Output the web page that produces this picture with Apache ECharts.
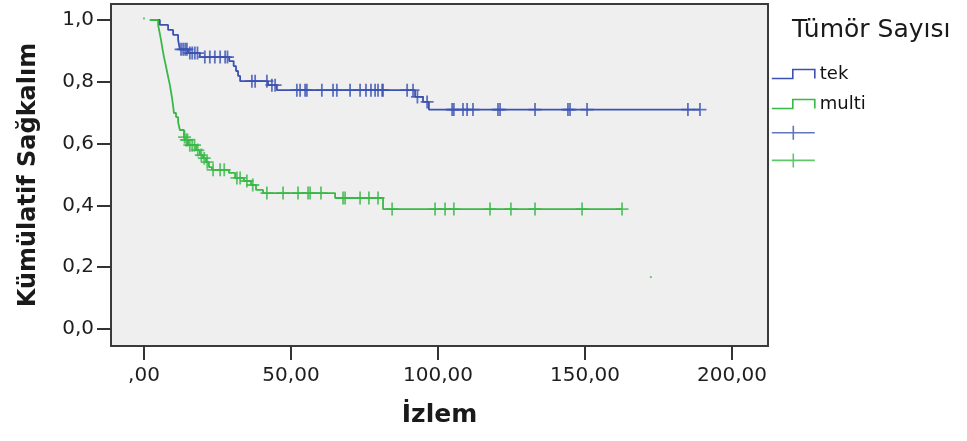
<!DOCTYPE html>
<html>
<head>
<meta charset="utf-8">
<script src="https://cdn.jsdelivr.net/npm/echarts@6/dist/echarts.min.js"></script>
<style>
html,body{margin:0;padding:0;background:#ffffff;}
#chart{width:967px;height:441px;}
</style>
</head>
<body>
<div id="chart"></div>
<script>
// ---- Data ----
const groupNames = ['tek', 'multi'];

// Kaplan-Meier steps: time at which survival level starts
const tekTime = [2.0, 5.4, 8.2, 9.9, 11.6, 12.2, 15.0, 19.0, 29.0, 30.5, 31.3, 32.0, 32.7, 42.2, 45.2, 92.2, 94.9, 96.9, 189.1];
const tekSurv = [1.0, 0.984, 0.968, 0.952, 0.936, 0.905, 0.893, 0.880, 0.867, 0.851, 0.835, 0.819, 0.802, 0.789, 0.773, 0.751, 0.735, 0.710, 0.710];

const tekCensTime = [12.6, 13.3, 14.0, 14.6, 15.6, 16.4, 17.3, 18.2, 20.7, 22.4, 24.1, 25.9, 27.6, 28.4, 36.7, 37.8, 41.8, 43.5, 44.6,
  52.0, 53.1, 54.8, 55.4, 60.5, 64.3, 65.6, 70.1, 73.5, 75.5, 77.2, 78.6, 79.6, 81.0, 81.3, 89.5, 91.5, 93.0, 96.3,
  104.8, 105.4, 108.5, 109.9, 111.9, 120.4, 121.1, 133.0, 144.2, 144.9, 150.7, 185.0, 189.1];
const tekCensSurv = [0.905, 0.905, 0.905, 0.905, 0.893, 0.893, 0.893, 0.893, 0.880, 0.880, 0.880, 0.880, 0.880, 0.880, 0.802, 0.802, 0.802, 0.789, 0.789,
  0.773, 0.773, 0.773, 0.773, 0.773, 0.773, 0.773, 0.773, 0.773, 0.773, 0.773, 0.773, 0.773, 0.773, 0.773, 0.773, 0.773, 0.751, 0.735,
  0.710, 0.710, 0.710, 0.710, 0.710, 0.710, 0.710, 0.710, 0.710, 0.710, 0.710, 0.710, 0.710];

const multiTime = [2.0, 4.8, 5.4, 5.8, 6.3, 6.8, 7.3, 7.8, 8.3, 8.8, 9.2, 9.6, 9.9, 10.2, 10.9, 11.6, 12.2, 13.6, 14.0, 15.0, 17.7, 19.0, 20.1, 21.1, 22.1, 23.1, 28.9, 31.0, 34.0, 36.4, 38.1, 40.5, 65.0, 81.3, 162.6];
const multiSurv = [1.0, 0.984, 0.955, 0.935, 0.906, 0.880, 0.858, 0.835, 0.812, 0.790, 0.767, 0.744, 0.722, 0.699, 0.686, 0.670, 0.644, 0.621, 0.612, 0.595, 0.579, 0.563, 0.553, 0.540, 0.524, 0.515, 0.505, 0.489, 0.479, 0.466, 0.450, 0.440, 0.424, 0.388, 0.388];

const multiCensTime = [13.8, 14.4, 14.8, 15.6, 16.4, 17.2, 18.3, 19.5, 20.5, 21.5, 23.5, 25.9, 27.3, 31.6, 32.7, 35.0, 37.0,
  41.8, 47.3, 52.4, 55.8, 56.5, 60.2, 67.7, 68.4, 73.5, 76.5, 79.6,
  84.4, 99.0, 102.4, 105.4, 117.7, 124.8, 133.0, 149.0, 162.6];
const multiCensSurv = [0.621, 0.612, 0.612, 0.595, 0.595, 0.595, 0.579, 0.563, 0.553, 0.540, 0.515, 0.515, 0.515, 0.489, 0.489, 0.479, 0.466,
  0.440, 0.440, 0.440, 0.440, 0.440, 0.440, 0.424, 0.424, 0.424, 0.424, 0.424,
  0.388, 0.388, 0.388, 0.388, 0.388, 0.388, 0.388, 0.388, 0.388];

// stray single-pixel marks visible in the reference
const strayTime = [0.0, 172.4];
const straySurv = [1.005, 0.168];

const xTickValues = [0, 50, 100, 150, 200];
const xTickLabels = [',00', '50,00', '100,00', '150,00', '200,00'];
const yTickValues = [0, 0.2, 0.4, 0.6, 0.8, 1.0];
const yTickLabels = ['0,0', '0,2', '0,4', '0,6', '0,8', '1,0'];

// ---- Chart ----
const BLUE = '#3b52b2';
const GREEN = '#38b847';
const stepIcon = 'path://M0,9L21,9L21,0L43,0L43,9';
const plusIcon = 'path://M0,7L43,7M21.5,0L21.5,14';
const censorSymbol = 'path://M0,6L12,6M6,0L6,12';

function pairs(a, b) { return a.map((v, i) => [v, b[i]]); }

const chart = echarts.init(document.getElementById('chart'), null, {renderer: 'canvas'});
const tickFont = {fontFamily: 'DejaVu Sans', fontSize: 20, color: '#1e1e1e'};

chart.setOption({
  animation: false,
  backgroundColor: '#ffffff',
  title: {
    text: 'Tümör Sayısı',
    left: 792, top: 18,
    padding: 0,
    textStyle: {fontFamily: 'DejaVu Sans', fontSize: 25, fontWeight: 'normal', color: '#1a1a1a'}
  },
  legend: {
    orient: 'vertical',
    left: 771, top: 65,
    padding: 0,
    itemWidth: 43, itemHeight: 14, itemGap: 12,
    selectedMode: false,
    textStyle: {fontFamily: 'DejaVu Sans', fontSize: 18, color: '#111'},
    formatter: n => (n.endsWith('+') ? '' : n),
    data: [
      {name: 'tek', icon: stepIcon, itemStyle: {color: 'rgba(0,0,0,0)', borderColor: BLUE, borderWidth: 1.6}},
      {name: 'multi', icon: stepIcon, itemStyle: {color: 'rgba(0,0,0,0)', borderColor: GREEN, borderWidth: 1.6}},
      {name: 'tek +', icon: plusIcon, itemStyle: {color: 'rgba(0,0,0,0)', borderColor: BLUE, borderWidth: 1.6}},
      {name: 'multi +', icon: plusIcon, itemStyle: {color: 'rgba(0,0,0,0)', borderColor: GREEN, borderWidth: 1.6}}
    ]
  },
  grid: {
    left: 111, top: 4, width: 657, height: 342,
    show: true, backgroundColor: '#efefef', borderColor: '#3a3a3a', borderWidth: 2
  },
  xAxis: {
    type: 'value', min: -11.22, max: 212.24,
    name: 'İzlem', nameLocation: 'middle', nameGap: 57,
    nameTextStyle: {fontFamily: 'DejaVu Sans', fontWeight: 'bold', fontSize: 25, color: '#1a1a1a'},
    axisLine: {show: false, onZero: false},
    splitLine: {show: false},
    axisTick: {show: true, inside: false, customValues: xTickValues, length: 14, lineStyle: {color: '#333', width: 2}},
    axisLabel: Object.assign({
      customValues: xTickValues, margin: 20,
      formatter: v => xTickLabels[xTickValues.indexOf(v)]
    }, tickFont)
  },
  yAxis: {
    type: 'value', min: -0.055, max: 1.0518,
    name: 'Kümülatif Sağkalım', nameLocation: 'middle', nameGap: 70,
    nameTextStyle: {fontFamily: 'DejaVu Sans', fontWeight: 'bold', fontSize: 24, color: '#1a1a1a'},
    axisLine: {show: false, onZero: false},
    splitLine: {show: false},
    axisTick: {show: true, inside: false, customValues: yTickValues, length: 14, lineStyle: {color: '#333', width: 2}},
    axisLabel: Object.assign({
      customValues: yTickValues, margin: 17,
      formatter: v => yTickLabels[yTickValues.findIndex(t => Math.abs(t - v) < 1e-6)]
    }, tickFont)
  },
  series: [
    {
      name: 'tek', type: 'line', step: 'end', symbol: 'none',
      data: pairs(tekTime, tekSurv),
      lineStyle: {color: BLUE, width: 1.8}, itemStyle: {color: BLUE}, z: 3
    },
    {
      name: 'multi', type: 'line', step: 'end', symbol: 'none',
      data: pairs(multiTime, multiSurv),
      lineStyle: {color: GREEN, width: 1.8}, itemStyle: {color: GREEN}, z: 3
    },
    {
      name: 'tek +', type: 'scatter', symbol: censorSymbol, symbolSize: 13,
      data: pairs(tekCensTime, tekCensSurv),
      itemStyle: {color: 'rgba(0,0,0,0)', borderColor: BLUE, borderWidth: 1.8}, z: 4
    },
    {
      name: 'multi +', type: 'scatter', symbol: censorSymbol, symbolSize: 13,
      data: pairs(multiCensTime, multiCensSurv),
      itemStyle: {color: 'rgba(0,0,0,0)', borderColor: GREEN, borderWidth: 1.8}, z: 4
    },
    {
      name: 'stray', type: 'scatter', symbol: 'rect', symbolSize: 2,
      data: pairs(strayTime, straySurv),
      itemStyle: {color: GREEN, opacity: 0.7}, z: 2
    }
  ]
});
</script>
</body>
</html>
